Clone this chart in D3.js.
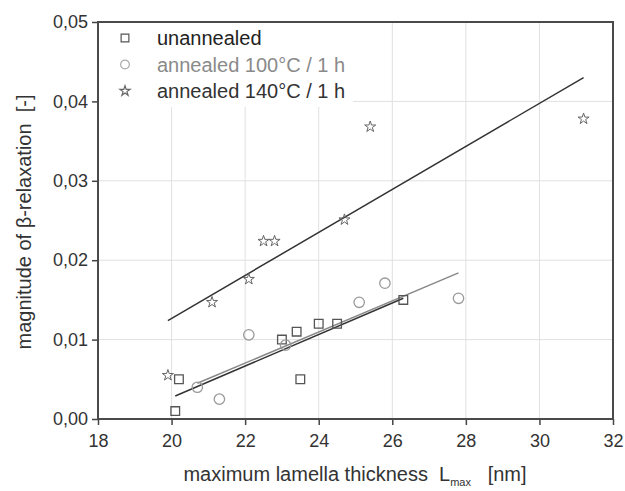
<!DOCTYPE html>
<html>
<head>
<meta charset="utf-8">
<script src="https://cdn.jsdelivr.net/npm/d3@7"></script>
<style>
  body { margin: 0; background: #fff; }
  text { font-family: "Liberation Sans", Arial, sans-serif; white-space: pre; }
</style>
</head>
<body>
<svg id="chart"></svg>
<script>
const xTicks = [18, 20, 22, 24, 26, 28, 30, 32]
const yTicks = [0, 0.01, 0.02, 0.03, 0.04, 0.05]

const unannealedX = [20.1, 20.2, 23.0, 23.4, 23.5, 24.0, 24.5, 26.3]
const unannealedY = [0.0010, 0.0050, 0.0100, 0.0110, 0.0050, 0.0120, 0.0120, 0.0150]
const annealed100X = [20.7, 21.3, 22.1, 23.1, 25.1, 25.8, 27.8]
const annealed100Y = [0.0040, 0.0025, 0.0106, 0.0093, 0.0147, 0.0171, 0.0152]
const annealed140X = [19.9, 21.1, 22.1, 22.5, 22.8, 24.7, 25.4, 31.2]
const annealed140Y = [0.0055, 0.0147, 0.0176, 0.0224, 0.0224, 0.0251, 0.0368, 0.0378]

// fitted lines, end points
const fitUnannealed = [[20.1, 0.0029], [26.3, 0.0152]]
const fit100 = [[20.7, 0.0045], [27.8, 0.0184]]
const fit140 = [[19.9, 0.0124], [31.2, 0.0430]]

const legendLabels = ['unannealed', 'annealed 100°C / 1 h', 'annealed 140°C / 1 h']

draw()

function draw() {
    const width = 625, height = 491
    const left = 98, right = 613, top = 22, bottom = 419
    const fmt = d => d3.format('.2f')(d).replace('.', ',')

    const svg = d3.select('#chart')
        .attr('width', width)
        .attr('height', height)

    const x = d3.scaleLinear().domain([18, 32]).range([left, right])
    const y = d3.scaleLinear().domain([0, 0.05]).range([bottom, top])

    // grid
    svg.append('g').selectAll('line').data(xTicks.slice(1, -1)).join('line')
        .attr('x1', d => x(d)).attr('x2', d => x(d))
        .attr('y1', top).attr('y2', bottom)
        .style('stroke', '#e0e0e0').style('stroke-width', 1)
    svg.append('g').selectAll('line').data(yTicks.slice(1, -1)).join('line')
        .attr('x1', left).attr('x2', right)
        .attr('y1', d => y(d)).attr('y2', d => y(d))
        .style('stroke', '#e0e0e0').style('stroke-width', 1)

    // legend background hides the grid
    svg.append('rect')
        .attr('x', left + 1).attr('y', top + 1)
        .attr('width', 254).attr('height', 84)
        .style('fill', '#fff')

    // axes
    const xAxis = svg.append('g')
        .attr('transform', `translate(0,${bottom})`)
        .call(d3.axisBottom(x).tickValues(xTicks).tickSize(6).tickPadding(9).tickFormat(d3.format('d')))
    const yAxis = svg.append('g')
        .attr('transform', `translate(${left},0)`)
        .call(d3.axisLeft(y).tickValues(yTicks).tickSize(6).tickPadding(4).tickFormat(fmt))
    for (const ax of [xAxis, yAxis]) {
        ax.select('.domain').remove()
        ax.selectAll('line').style('stroke', '#444').style('stroke-width', 1.5)
        ax.selectAll('text')
            .style('font-family', '"Liberation Sans", Arial, sans-serif')
            .style('font-size', '18px').style('fill', '#333')
    }

    svg.append('rect')
        .attr('x', left).attr('y', top)
        .attr('width', right - left).attr('height', bottom - top)
        .style('fill', 'none').style('stroke', '#4a4a4a').style('stroke-width', 2)

    // fit lines
    const line = d3.line().x(d => x(d[0])).y(d => y(d[1]))
    svg.append('path').datum(fit140).attr('d', line)
        .style('fill', 'none').style('stroke', '#333').style('stroke-width', 1.5)
    svg.append('path').datum(fit100).attr('d', line)
        .style('fill', 'none').style('stroke', '#888').style('stroke-width', 1.5)
    svg.append('path').datum(fitUnannealed).attr('d', line)
        .style('fill', 'none').style('stroke', '#333').style('stroke-width', 1.5)

    // markers
    const square = d3.symbol().type(d3.symbolSquare).size(75)
    const circle = d3.symbol().type(d3.symbolCircle).size(85)
    const star = d3.symbol().type(d3.symbolStar).size(38)

    svg.append('g').selectAll('path').data(d3.zip(unannealedX, unannealedY)).join('path')
        .attr('transform', d => `translate(${x(d[0])},${y(d[1])})`)
        .attr('d', square)
        .style('fill', 'none').style('stroke', '#555').style('stroke-width', 1.3)
    svg.append('g').selectAll('path').data(d3.zip(annealed100X, annealed100Y)).join('path')
        .attr('transform', d => `translate(${x(d[0])},${y(d[1])})`)
        .attr('d', circle)
        .style('fill', 'none').style('stroke', '#999').style('stroke-width', 1.3)
    svg.append('g').selectAll('path').data(d3.zip(annealed140X, annealed140Y)).join('path')
        .attr('transform', d => `translate(${x(d[0])},${y(d[1])})`)
        .attr('d', star)
        .style('fill', 'none').style('stroke', '#666').style('stroke-width', 1)

    // legend
    const legendSymbols = [
        d3.symbol().type(d3.symbolSquare).size(60),
        d3.symbol().type(d3.symbolCircle).size(60),
        d3.symbol().type(d3.symbolStar).size(32)
    ]
    const legendStroke = ['#555', '#aaa', '#666']
    const legendText = ['#222', '#8a8a8a', '#333']
    legendLabels.forEach((label, i) => {
        const ly = 45 + i * 26.5
        svg.append('path')
            .attr('transform', `translate(125,${ly - 7})`)
            .attr('d', legendSymbols[i])
            .style('fill', 'none').style('stroke', legendStroke[i]).style('stroke-width', 1.2)
        svg.append('text')
            .attr('x', 157).attr('y', ly)
            .style('font-size', '20px').style('fill', legendText[i])
            .text(label)
    })

    // axis titles
    svg.append('text')
        .attr('transform', 'translate(31,222) rotate(-90)')
        .attr('text-anchor', 'middle')
        .style('font-size', '20px').style('fill', '#333')
        .text('magnitude of β-relaxation  [-]')

    const xt = svg.append('text')
        .attr('x', 355).attr('y', 481)
        .attr('text-anchor', 'middle')
        .style('font-size', '20px').style('fill', '#333')
    xt.append('tspan').text('maximum lamella thickness  L')
    xt.append('tspan').attr('dy', 5).style('font-size', '11px').text('max')
    xt.append('tspan').attr('dy', -5).text('   [nm]')
}
</script>
</body>
</html>
